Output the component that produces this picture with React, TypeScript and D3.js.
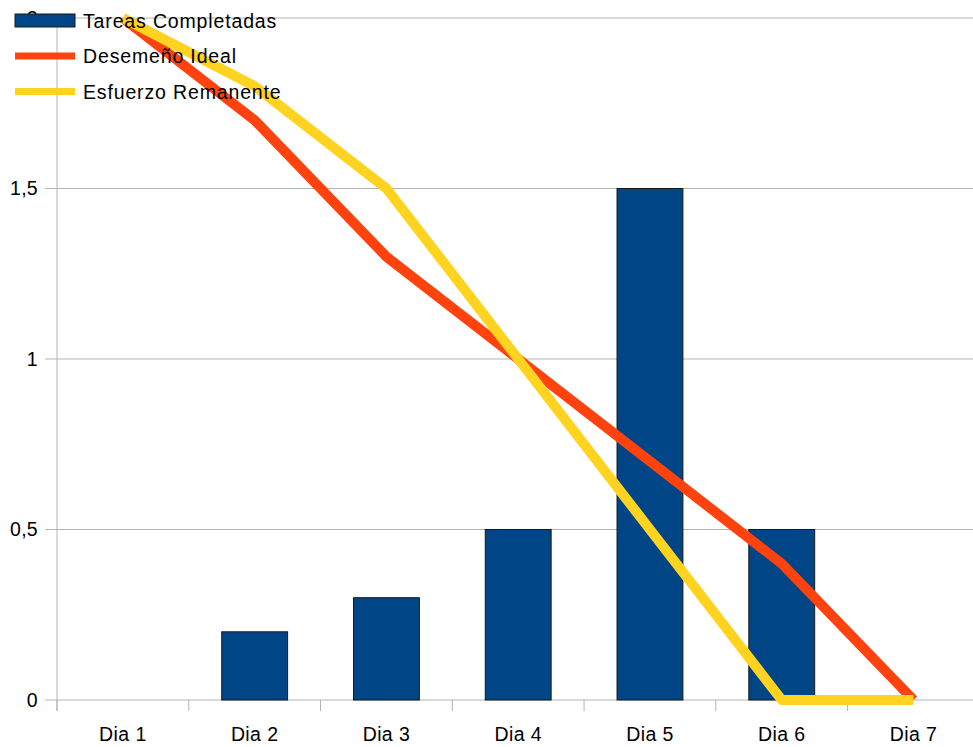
import React from "react";
import * as d3 from "d3";

const categories = ["Dia 1", "Dia 2", "Dia 3", "Dia 4", "Dia 5", "Dia 6", "Dia 7"];
const tareasCompletadas = [0, 0.2, 0.3, 0.5, 1.5, 0.5, 0];
const desempenoIdeal = [2, 1.7, 1.3, 1.0, 0.7, 0.4, 0];
const esfuerzoRemanente = [2, 1.8, 1.5, 1.0, 0.5, 0, 0];
const yTicks = [0, 0.5, 1, 1.5, 2];
const seriesNames = ["Tareas Completadas", "Desemeño Ideal", "Esfuerzo Remanente"];

const W = 973;
const H = 747;
const FONT = "'Liberation Sans', Arial, sans-serif";
const GRID = "#b3b3b3";
const BAR = "#004586";
const RED = "#ff420e";
const YELLOW = "#ffd320";

export default function App() {
  const left = 57;
  const right = 979.4;
  const top = 18;
  const bottom = 700;

  const x = d3
    .scaleBand<string>()
    .domain(categories)
    .range([left, right])
    .paddingInner(0.5)
    .paddingOuter(0.25);
  const step = x.step();
  const bw = x.bandwidth();
  const cx = (c: string) => (x(c) as number) + bw / 2;

  const y = d3.scaleLinear().domain([0, 2]).range([bottom, top]);
  const fmt = (v: number) => String(v).replace(".", ",");

  const line = d3
    .line<number>()
    .x((_, i) => cx(categories[i]))
    .y((v) => y(v));

  const boundaries = categories.map((c) => (x(c) as number) - step * 0.25);

  return (
    <svg
      width={W}
      height={H}
      style={{ position: "absolute", left: 0, top: 0, background: "#fff" }}
      fontFamily={FONT}
    >
      {/* gridlines */}
      {yTicks.map((t) => (
        <line key={"g" + t} x1={left - 12} x2={W} y1={y(t)} y2={y(t)} stroke={GRID} strokeWidth={1} />
      ))}
      {/* y axis */}
      <line x1={left} x2={left} y1={top} y2={bottom + 11} stroke={GRID} strokeWidth={1} />
      {/* x ticks */}
      {boundaries.map((b, i) => (
        <line key={"xt" + i} x1={b} x2={b} y1={bottom} y2={bottom + 11} stroke={GRID} strokeWidth={1} />
      ))}
      {/* y labels */}
      {yTicks.map((t) => (
        <text key={"yl" + t} x={38} y={y(t)} dy="0.35em" textAnchor="end" fontSize={19.5} letterSpacing={0.3} fill="#000">
          {fmt(t)}
        </text>
      ))}
      {/* x labels */}
      {categories.map((c) => (
        <text key={"xl" + c} x={cx(c)} y={741} textAnchor="middle" fontSize={19.5} letterSpacing={0.4} fill="#000">
          {c}
        </text>
      ))}
      {/* bars */}
      {categories.map((c, i) =>
        tareasCompletadas[i] > 0 ? (
          <rect
            key={"b" + c}
            x={x(c) as number}
            y={y(tareasCompletadas[i])}
            width={bw}
            height={bottom - y(tareasCompletadas[i])}
            fill={BAR}
            stroke="#1a1a1a"
            strokeWidth={1}
          />
        ) : null
      )}
      {/* lines */}
      <path d={line(desempenoIdeal) || ""} fill="none" stroke={RED} strokeWidth={10} strokeLinejoin="round" />
      <path d={line(esfuerzoRemanente) || ""} fill="none" stroke={YELLOW} strokeWidth={10} strokeLinejoin="round" />
      {/* legend */}
      <g fontSize={19.5} letterSpacing={0.85} fill="#000">
        <rect x={15} y={14} width={60} height={13} fill={BAR} stroke="#1a1a1a" strokeWidth={1} />
        <text x={83} y={28}>{seriesNames[0]}</text>
        <line x1={15} x2={75} y1={56} y2={56} stroke={RED} strokeWidth={7} />
        <text x={83} y={63}>{seriesNames[1]}</text>
        <line x1={15} x2={75} y1={91.5} y2={91.5} stroke={YELLOW} strokeWidth={7} />
        <text x={83} y={99}>{seriesNames[2]}</text>
      </g>
    </svg>
  );
}
